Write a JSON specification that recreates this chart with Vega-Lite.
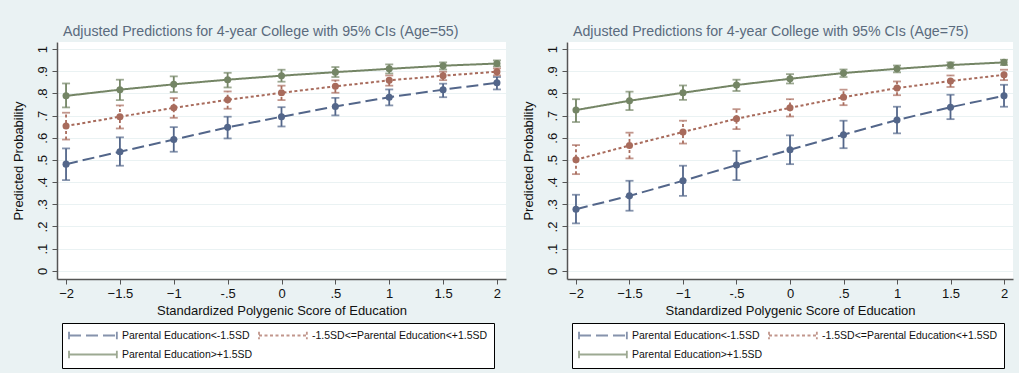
{
  "$schema": "https://vega.github.io/schema/vega-lite/v6.json",
  "background": "#eaf2f3",
  "padding": {"left": 12, "top": 24, "right": 6, "bottom": 8},
  "config": {
    "font": "Liberation Sans",
    "view": {"fill": "white", "stroke": null},
    "axis": {
      "labelFont": "Liberation Sans", "titleFont": "Liberation Sans",
      "labelFontSize": 13, "titleFontSize": 13, "labelColor": "#111", "titleColor": "#111",
      "titleFontWeight": "normal", "domainColor": "#555", "domainWidth": 1.5,
      "tickColor": "#555", "tickSize": 5, "tickWidth": 1, "gridColor": "#eaf2f3", "gridWidth": 1.2,
      "labelOverlap": false
    },
    "legend": {
      "labelFont": "Liberation Sans", "labelFontSize": 10.5, "labelColor": "#111", "labelLimit": 400,
      "symbolType": "M-1,-0.7V0.7M-1,0H7.7M7.7,-0.7V0.7", "symbolSize": 121, "symbolStrokeWidth": 1.8,
      "fillColor": "white", "strokeColor": "#000", "padding": 6, "columnPadding": 2, "rowPadding": 4, "labelOffset": 41
    },
    "title": {"font": "Liberation Sans", "fontWeight": "normal", "fontSize": 14.2, "color": "#5a6b7e", "anchor": "start", "frame": "group", "dx": 6, "offset": 3}
  },
  "datasets": {
    "preds": [
      {"age": "55", "grp": "Parental Education<-1.5SD", "x": -2, "p": 0.481, "lo": 0.409, "hi": 0.552},
      {"age": "55", "grp": "Parental Education<-1.5SD", "x": -1.5, "p": 0.537, "lo": 0.474, "hi": 0.602},
      {"age": "55", "grp": "Parental Education<-1.5SD", "x": -1, "p": 0.592, "lo": 0.537, "hi": 0.648},
      {"age": "55", "grp": "Parental Education<-1.5SD", "x": -0.5, "p": 0.647, "lo": 0.597, "hi": 0.695},
      {"age": "55", "grp": "Parental Education<-1.5SD", "x": 0, "p": 0.695, "lo": 0.651, "hi": 0.738},
      {"age": "55", "grp": "Parental Education<-1.5SD", "x": 0.5, "p": 0.741, "lo": 0.701, "hi": 0.780},
      {"age": "55", "grp": "Parental Education<-1.5SD", "x": 1, "p": 0.783, "lo": 0.746, "hi": 0.818},
      {"age": "55", "grp": "Parental Education<-1.5SD", "x": 1.5, "p": 0.817, "lo": 0.783, "hi": 0.844},
      {"age": "55", "grp": "Parental Education<-1.5SD", "x": 2, "p": 0.848, "lo": 0.818, "hi": 0.874},
      {"age": "55", "grp": "-1.5SD<=Parental Education<+1.5SD", "x": -2, "p": 0.653, "lo": 0.592, "hi": 0.713},
      {"age": "55", "grp": "-1.5SD<=Parental Education<+1.5SD", "x": -1.5, "p": 0.695, "lo": 0.642, "hi": 0.746},
      {"age": "55", "grp": "-1.5SD<=Parental Education<+1.5SD", "x": -1, "p": 0.735, "lo": 0.690, "hi": 0.779},
      {"age": "55", "grp": "-1.5SD<=Parental Education<+1.5SD", "x": -0.5, "p": 0.771, "lo": 0.731, "hi": 0.809},
      {"age": "55", "grp": "-1.5SD<=Parental Education<+1.5SD", "x": 0, "p": 0.803, "lo": 0.770, "hi": 0.835},
      {"age": "55", "grp": "-1.5SD<=Parental Education<+1.5SD", "x": 0.5, "p": 0.832, "lo": 0.803, "hi": 0.859},
      {"age": "55", "grp": "-1.5SD<=Parental Education<+1.5SD", "x": 1, "p": 0.859, "lo": 0.835, "hi": 0.881},
      {"age": "55", "grp": "-1.5SD<=Parental Education<+1.5SD", "x": 1.5, "p": 0.880, "lo": 0.860, "hi": 0.898},
      {"age": "55", "grp": "-1.5SD<=Parental Education<+1.5SD", "x": 2, "p": 0.898, "lo": 0.881, "hi": 0.913},
      {"age": "55", "grp": "Parental Education>+1.5SD", "x": -2, "p": 0.789, "lo": 0.737, "hi": 0.845},
      {"age": "55", "grp": "Parental Education>+1.5SD", "x": -1.5, "p": 0.817, "lo": 0.770, "hi": 0.862},
      {"age": "55", "grp": "Parental Education>+1.5SD", "x": -1, "p": 0.841, "lo": 0.806, "hi": 0.877},
      {"age": "55", "grp": "Parental Education>+1.5SD", "x": -0.5, "p": 0.862, "lo": 0.827, "hi": 0.893},
      {"age": "55", "grp": "Parental Education>+1.5SD", "x": 0, "p": 0.880, "lo": 0.853, "hi": 0.907},
      {"age": "55", "grp": "Parental Education>+1.5SD", "x": 0.5, "p": 0.896, "lo": 0.874, "hi": 0.919},
      {"age": "55", "grp": "Parental Education>+1.5SD", "x": 1, "p": 0.911, "lo": 0.890, "hi": 0.931},
      {"age": "55", "grp": "Parental Education>+1.5SD", "x": 1.5, "p": 0.925, "lo": 0.908, "hi": 0.940},
      {"age": "55", "grp": "Parental Education>+1.5SD", "x": 2, "p": 0.935, "lo": 0.922, "hi": 0.949},
      {"age": "75", "grp": "Parental Education<-1.5SD", "x": -2, "p": 0.278, "lo": 0.214, "hi": 0.343},
      {"age": "75", "grp": "Parental Education<-1.5SD", "x": -1.5, "p": 0.338, "lo": 0.271, "hi": 0.406},
      {"age": "75", "grp": "Parental Education<-1.5SD", "x": -1, "p": 0.406, "lo": 0.338, "hi": 0.474},
      {"age": "75", "grp": "Parental Education<-1.5SD", "x": -0.5, "p": 0.477, "lo": 0.409, "hi": 0.541},
      {"age": "75", "grp": "Parental Education<-1.5SD", "x": 0, "p": 0.546, "lo": 0.481, "hi": 0.611},
      {"age": "75", "grp": "Parental Education<-1.5SD", "x": 0.5, "p": 0.614, "lo": 0.553, "hi": 0.677},
      {"age": "75", "grp": "Parental Education<-1.5SD", "x": 1, "p": 0.680, "lo": 0.620, "hi": 0.740},
      {"age": "75", "grp": "Parental Education<-1.5SD", "x": 1.5, "p": 0.738, "lo": 0.684, "hi": 0.794},
      {"age": "75", "grp": "Parental Education<-1.5SD", "x": 2, "p": 0.789, "lo": 0.740, "hi": 0.839},
      {"age": "75", "grp": "-1.5SD<=Parental Education<+1.5SD", "x": -2, "p": 0.501, "lo": 0.436, "hi": 0.567},
      {"age": "75", "grp": "-1.5SD<=Parental Education<+1.5SD", "x": -1.5, "p": 0.565, "lo": 0.507, "hi": 0.623},
      {"age": "75", "grp": "-1.5SD<=Parental Education<+1.5SD", "x": -1, "p": 0.626, "lo": 0.574, "hi": 0.677},
      {"age": "75", "grp": "-1.5SD<=Parental Education<+1.5SD", "x": -0.5, "p": 0.686, "lo": 0.639, "hi": 0.729},
      {"age": "75", "grp": "-1.5SD<=Parental Education<+1.5SD", "x": 0, "p": 0.735, "lo": 0.696, "hi": 0.774},
      {"age": "75", "grp": "-1.5SD<=Parental Education<+1.5SD", "x": 0.5, "p": 0.783, "lo": 0.747, "hi": 0.817},
      {"age": "75", "grp": "-1.5SD<=Parental Education<+1.5SD", "x": 1, "p": 0.824, "lo": 0.792, "hi": 0.854},
      {"age": "75", "grp": "-1.5SD<=Parental Education<+1.5SD", "x": 1.5, "p": 0.856, "lo": 0.829, "hi": 0.881},
      {"age": "75", "grp": "-1.5SD<=Parental Education<+1.5SD", "x": 2, "p": 0.884, "lo": 0.860, "hi": 0.907},
      {"age": "75", "grp": "Parental Education>+1.5SD", "x": -2, "p": 0.725, "lo": 0.671, "hi": 0.774},
      {"age": "75", "grp": "Parental Education>+1.5SD", "x": -1.5, "p": 0.767, "lo": 0.725, "hi": 0.808},
      {"age": "75", "grp": "Parental Education>+1.5SD", "x": -1, "p": 0.803, "lo": 0.771, "hi": 0.836},
      {"age": "75", "grp": "Parental Education>+1.5SD", "x": -0.5, "p": 0.838, "lo": 0.811, "hi": 0.862},
      {"age": "75", "grp": "Parental Education>+1.5SD", "x": 0, "p": 0.866, "lo": 0.845, "hi": 0.887},
      {"age": "75", "grp": "Parental Education>+1.5SD", "x": 0.5, "p": 0.892, "lo": 0.874, "hi": 0.908},
      {"age": "75", "grp": "Parental Education>+1.5SD", "x": 1, "p": 0.911, "lo": 0.895, "hi": 0.926},
      {"age": "75", "grp": "Parental Education>+1.5SD", "x": 1.5, "p": 0.928, "lo": 0.913, "hi": 0.940},
      {"age": "75", "grp": "Parental Education>+1.5SD", "x": 2, "p": 0.940, "lo": 0.928, "hi": 0.952}
    ]
  },
  "bounds": "flush",
  "spacing": 61,
  "resolve": {"legend": {"color": "independent", "strokeDash": "independent"}, "scale": {"color": "independent", "strokeDash": "independent"}},
  "hconcat": [
    {
      "title": {"text": "Adjusted Predictions for 4-year College with 95% CIs (Age=55)"},
      "width": 449, "height": 237,
      "data": {"name": "preds"},
      "transform": [{"filter": "datum.age == '55'"}],
      "encoding": {
        "x": {"field": "x", "type": "quantitative", "scale": {"domain": [-2.084, 2.084], "nice": false, "zero": false},
          "axis": {"values": [-2, -1.5, -1, -0.5, 0, 0.5, 1, 1.5, 2], "tickCount": 20, "grid": false, "title": "Standardized Polygenic Score of Education", "labelPadding": 3, "titlePadding": 4, "labelFlush": false,
            "labelExpr": "datum.value == 0.5 ? '.5' : datum.value == -0.5 ? '-.5' : format(datum.value, '~g')"}},
        "color": {"field": "grp", "type": "nominal",
          "scale": {"domain": ["Parental Education<-1.5SD", "-1.5SD<=Parental Education<+1.5SD", "Parental Education>+1.5SD"], "range": ["#53668a", "#a86b5c", "#748565"]},
          "legend": {"orient": "none", "legendX": 5, "legendY": 281, "direction": "horizontal", "columns": 2, "title": null}}
      },
      "layer": [
        {"mark": {"type": "line", "strokeWidth": 2},
          "encoding": {"y": {"field": "p", "type": "quantitative", "scale": {"domain": [-0.037, 1.032], "nice": false},
              "axis": {"values": [0, 0.1, 0.2, 0.3, 0.4, 0.5, 0.6, 0.7, 0.8, 0.9, 1], "tickCount": 20, "format": ".1f", "title": "Predicted Probability", "labelAngle": -90, "labelAlign": "center", "labelBaseline": "bottom", "labelPadding": 3, "titlePadding": 11, "labelOverlap": false, "labelFlush": false,
                "labelExpr": "datum.value < 0.05 ? '0' : datum.value > 0.95 ? '1' : replace(datum.label, '0.', '.')"}},
            "strokeDash": {"field": "grp", "type": "nominal",
              "scale": {"domain": ["Parental Education<-1.5SD", "-1.5SD<=Parental Education<+1.5SD", "Parental Education>+1.5SD"], "range": [[12, 5], [3, 2.5], [1, 0]]},
              "legend": {"orient": "none", "legendX": 5, "legendY": 281, "direction": "horizontal", "columns": 2, "title": null}}}},
        {"transform": [{"filter": "datum.grp != '-1.5SD<=Parental Education<+1.5SD'"}],
          "mark": {"type": "rule", "strokeWidth": 1.8},
          "encoding": {"y": {"field": "lo", "type": "quantitative"}, "y2": {"field": "hi"}}},
        {"transform": [{"filter": "datum.grp == '-1.5SD<=Parental Education<+1.5SD'"}],
          "mark": {"type": "rule", "strokeWidth": 1.8, "strokeDash": [3, 2.5]},
          "encoding": {"y": {"field": "lo", "type": "quantitative"}, "y2": {"field": "hi"}}},
        {"mark": {"type": "tick", "orient": "horizontal", "size": 8, "thickness": 1.8},
          "encoding": {"y": {"field": "lo", "type": "quantitative"}}},
        {"mark": {"type": "tick", "orient": "horizontal", "size": 8, "thickness": 1.8},
          "encoding": {"y": {"field": "hi", "type": "quantitative"}}},
        {"mark": {"type": "point", "filled": true, "opacity": 1, "size": 50},
          "encoding": {"y": {"field": "p", "type": "quantitative"}}}
      ]
    },
    {
      "title": {"text": "Adjusted Predictions for 4-year College with 95% CIs (Age=75)"},
      "width": 446, "height": 237,
      "data": {"name": "preds"},
      "transform": [{"filter": "datum.age == '75'"}],
      "encoding": {
        "x": {"field": "x", "type": "quantitative", "scale": {"domain": [-2.084, 2.084], "nice": false, "zero": false},
          "axis": {"values": [-2, -1.5, -1, -0.5, 0, 0.5, 1, 1.5, 2], "tickCount": 20, "grid": false, "title": "Standardized Polygenic Score of Education", "labelPadding": 3, "titlePadding": 4, "labelFlush": false,
            "labelExpr": "datum.value == 0.5 ? '.5' : datum.value == -0.5 ? '-.5' : format(datum.value, '~g')"}},
        "color": {"field": "grp", "type": "nominal",
          "scale": {"domain": ["Parental Education<-1.5SD", "-1.5SD<=Parental Education<+1.5SD", "Parental Education>+1.5SD"], "range": ["#53668a", "#a86b5c", "#748565"]},
          "legend": {"orient": "none", "legendX": 5, "legendY": 281, "direction": "horizontal", "columns": 2, "title": null}}
      },
      "layer": [
        {"mark": {"type": "line", "strokeWidth": 2},
          "encoding": {"y": {"field": "p", "type": "quantitative", "scale": {"domain": [-0.037, 1.032], "nice": false},
              "axis": {"values": [0, 0.1, 0.2, 0.3, 0.4, 0.5, 0.6, 0.7, 0.8, 0.9, 1], "tickCount": 20, "format": ".1f", "title": "Predicted Probability", "labelAngle": -90, "labelAlign": "center", "labelBaseline": "bottom", "labelPadding": 3, "titlePadding": 11, "labelOverlap": false, "labelFlush": false,
                "labelExpr": "datum.value < 0.05 ? '0' : datum.value > 0.95 ? '1' : replace(datum.label, '0.', '.')"}},
            "strokeDash": {"field": "grp", "type": "nominal",
              "scale": {"domain": ["Parental Education<-1.5SD", "-1.5SD<=Parental Education<+1.5SD", "Parental Education>+1.5SD"], "range": [[12, 5], [3, 2.5], [1, 0]]},
              "legend": {"orient": "none", "legendX": 5, "legendY": 281, "direction": "horizontal", "columns": 2, "title": null}}}},
        {"transform": [{"filter": "datum.grp != '-1.5SD<=Parental Education<+1.5SD'"}],
          "mark": {"type": "rule", "strokeWidth": 1.8},
          "encoding": {"y": {"field": "lo", "type": "quantitative"}, "y2": {"field": "hi"}}},
        {"transform": [{"filter": "datum.grp == '-1.5SD<=Parental Education<+1.5SD'"}],
          "mark": {"type": "rule", "strokeWidth": 1.8, "strokeDash": [3, 2.5]},
          "encoding": {"y": {"field": "lo", "type": "quantitative"}, "y2": {"field": "hi"}}},
        {"mark": {"type": "tick", "orient": "horizontal", "size": 8, "thickness": 1.8},
          "encoding": {"y": {"field": "lo", "type": "quantitative"}}},
        {"mark": {"type": "tick", "orient": "horizontal", "size": 8, "thickness": 1.8},
          "encoding": {"y": {"field": "hi", "type": "quantitative"}}},
        {"mark": {"type": "point", "filled": true, "opacity": 1, "size": 50},
          "encoding": {"y": {"field": "p", "type": "quantitative"}}}
      ]
    }
  ]
}
